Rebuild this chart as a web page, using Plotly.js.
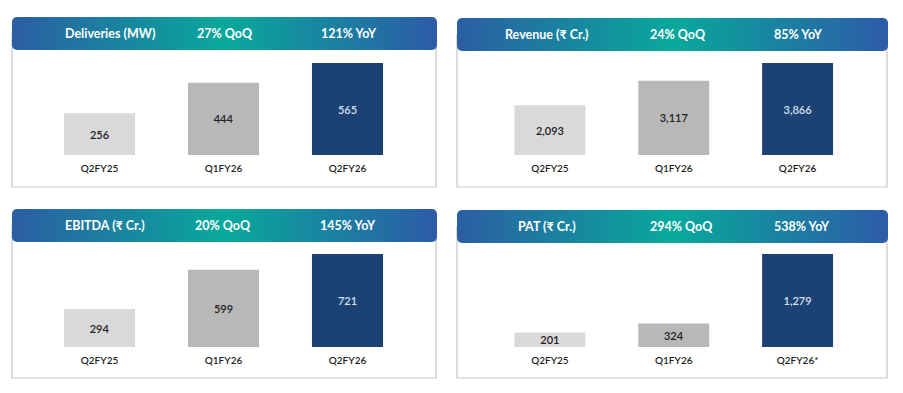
<!DOCTYPE html>
<html>
<head>
<meta charset="utf-8">
<script src="https://cdn.plot.ly/plotly-3.0.1.min.js"></script>
<style>html,body{margin:0;padding:0;background:#fff;}#chart{width:903px;height:393px;}</style>
</head>
<body>
<div id="chart"></div>
<script>
// ---- data ----
const categories = ['Q2FY25', 'Q1FY26', 'Q2FY26'];
const patCategories = ['Q2FY25', 'Q1FY26', 'Q2FY26*'];
const deliveries = [256, 444, 565];
const revenue = [2093, 3117, 3866];
const ebitda = [294, 599, 721];
const pat = [201, 324, 1279];
const panelTitles = ['Deliveries (MW)', 'Revenue (₹ Cr.)', 'EBITDA (₹ Cr.)', 'PAT (₹ Cr.)'];
const qoqLabels = ['27% QoQ', '24% QoQ', '20% QoQ', '294% QoQ'];
const yoyLabels = ['121% YoY', '85% YoY', '145% YoY', '538% YoY'];

// ---- styles ----
const barColors = ['#d9d9d9', '#b8b8b8', '#1b4273'];
const labelColors = ['#1e1e1e', '#1e1e1e', '#d6e0ee'];
const W = 903, H = 393;
const px = x => x / W;
const py = y => 1 - y / H;

const series = [deliveries, revenue, ebitda, pat];
const cats = [categories, categories, categories, patCategories];

// panel geometry in pixels
const panels = [
  {x0: 12, x1: 437, hy0: 17, hy1: 50, by1: 187, dx0: 37.5, dx1: 409.5, base: 155, top: 63,
   tx: [110, 225, 349]},
  {x0: 457, x1: 888, hy0: 18, hy1: 51, by1: 187, dx0: 488, dx1: 859.5, base: 155, top: 63,
   tx: [547, 677.5, 798]},
  {x0: 12, x1: 437, hy0: 209, hy1: 242, by1: 378, dx0: 37.5, dx1: 409.5, base: 347, top: 254,
   tx: [104.5, 223, 348]},
  {x0: 457, x1: 888, hy0: 210, hy1: 243, by1: 378, dx0: 488, dx1: 859.5, base: 347, top: 254,
   tx: [547, 681, 802]}
];

function headerSvg(w, h) {
  const s = `<svg xmlns='http://www.w3.org/2000/svg' width='${w}' height='${h}' viewBox='0 0 ${w} ${h}'>` +
    `<defs><linearGradient id='g' x1='0' y1='0' x2='1' y2='0'>` +
    `<stop offset='0' stop-color='#2c5ea4'/><stop offset='0.5' stop-color='#08a99b'/><stop offset='1' stop-color='#2d5ba8'/>` +
    `</linearGradient></defs><rect x='0' y='0' width='${w}' height='${h}' rx='5' ry='5' fill='url(#g)'/></svg>`;
  return 'data:image/svg+xml;charset=utf-8,' + encodeURIComponent(s);
}

const traces = [];
const layout = {
  width: W, height: H,
  margin: {l: 0, r: 0, t: 0, b: 0},
  paper_bgcolor: '#ffffff', plot_bgcolor: 'rgba(0,0,0,0)',
  showlegend: false,
  font: {family: 'Lato, "Open Sans", sans-serif', color: '#262626'},
  shapes: [], images: [], annotations: []
};

panels.forEach((p, i) => {
  const ax = i === 0 ? '' : String(i + 1);
  traces.push({
    type: 'bar',
    x: cats[i], y: series[i],
    xaxis: 'x' + ax, yaxis: 'y' + ax,
    width: 0.573,
    marker: {color: barColors, line: {width: 0}},
    text: series[i].map(v => v.toLocaleString('en-US')),
    textposition: 'inside',
    insidetextanchor: 'middle',
    constraintext: 'none',
    textangle: 0,
    textfont: {family: 'Lato, "Open Sans", sans-serif', size: 11, weight: 600, color: labelColors},
    cliponaxis: false,
    hoverinfo: 'skip'
  });
  layout['xaxis' + ax] = {
    domain: [px(p.dx0), px(p.dx1)],
    anchor: 'y' + ax,
    type: 'category',
    range: [-0.5, 2.5],
    showgrid: false, zeroline: false, showline: false,
    ticks: '', ticklabelstandoff: 6,
    tickfont: {family: 'Lato, "Open Sans", sans-serif', size: 10, weight: 600, color: '#1e1e1e'},
    fixedrange: true
  };
  layout['yaxis' + ax] = {
    domain: [py(p.base), py(p.top)],
    anchor: 'x' + ax,
    range: [0, Math.max(...series[i])],
    visible: false,
    fixedrange: true
  };
  // content box
  layout.shapes.push({
    type: 'rect', xref: 'paper', yref: 'paper', layer: 'below',
    x0: px(p.x0), x1: px(p.x1 - 1), y0: py(p.by1), y1: py((p.hy0 + p.hy1) / 2),
    line: {color: '#c6c6c6', width: 1.2}, fillcolor: '#ffffff'
  });
  // gradient header
  const hw = p.x1 - p.x0, hh = p.hy1 - p.hy0;
  layout.images.push({
    source: headerSvg(hw, hh), xref: 'paper', yref: 'paper',
    x: px(p.x0), y: py(p.hy0), sizex: px(hw), sizey: hh / H,
    xanchor: 'left', yanchor: 'top', sizing: 'stretch', layer: 'above'
  });
  const hcy = py((p.hy0 + p.hy1) / 2);
  [panelTitles[i], qoqLabels[i], yoyLabels[i]].forEach((t, k) => {
    layout.annotations.push({
      xref: 'paper', yref: 'paper', x: px(p.tx[k]), y: hcy,
      xanchor: 'center', yanchor: 'middle', showarrow: false,
      text: '<b>' + t + '</b>',
      font: {family: 'Lato, "Noto Sans", sans-serif', size: 12.5, color: '#ffffff'}
    });
  });
});

Plotly.newPlot('chart', traces, layout, {displayModeBar: false, staticPlot: true});
</script>
</body>
</html>
